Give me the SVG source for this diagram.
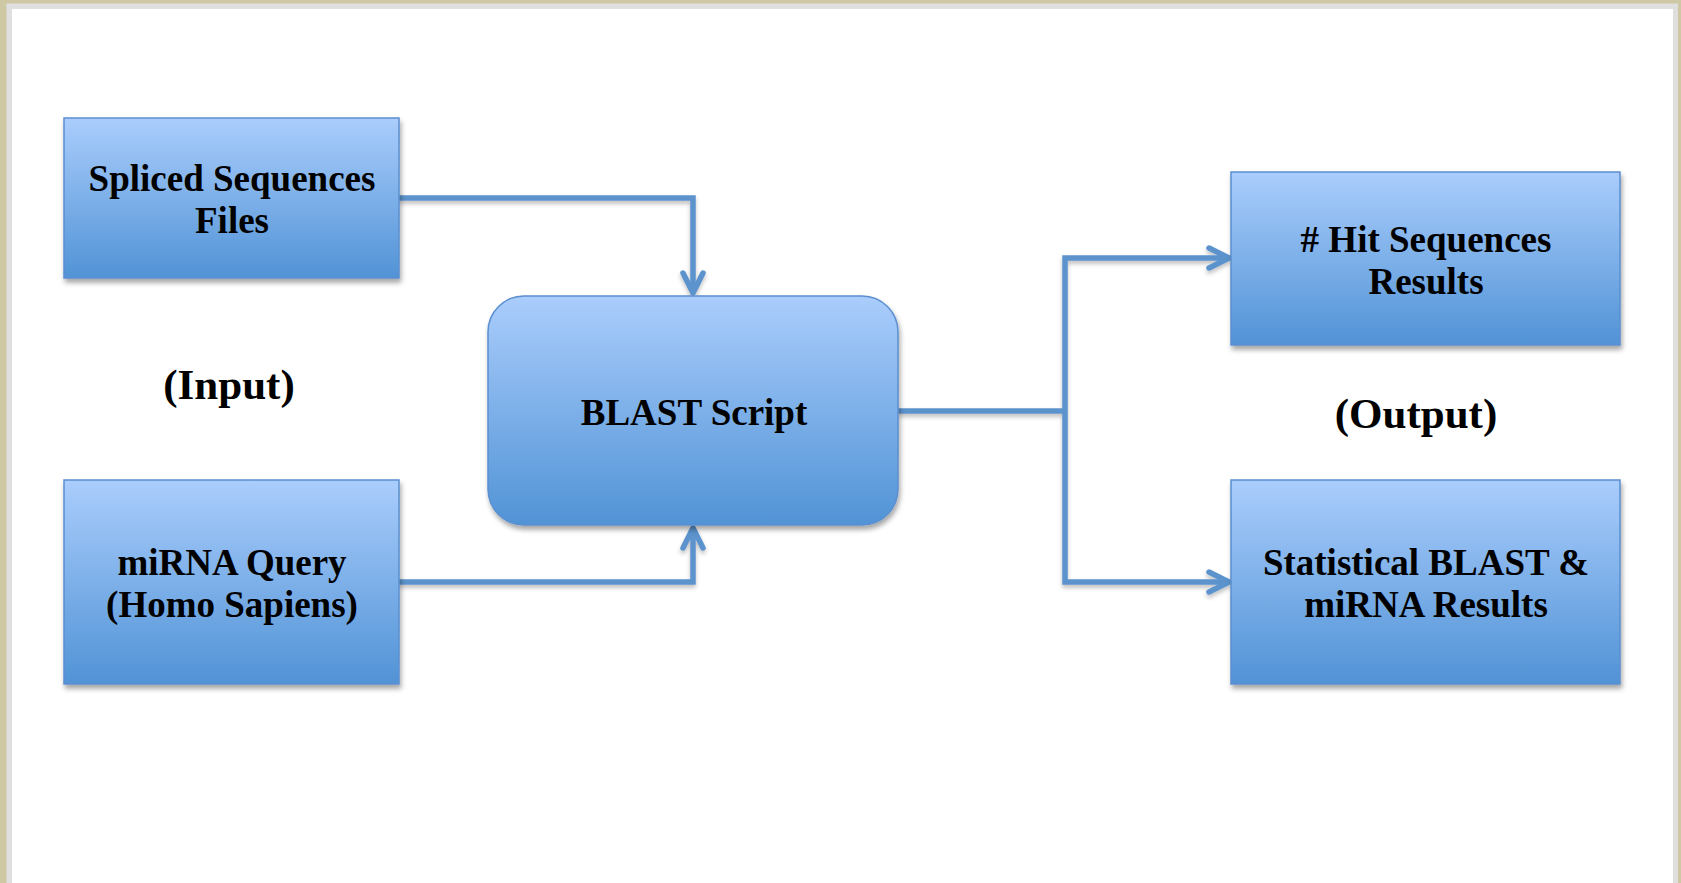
<svg xmlns="http://www.w3.org/2000/svg" width="1681" height="883" viewBox="0 0 1681 883">
  <style>
    .box { fill: url(#boxGrad); stroke: #5b8fcf; stroke-width: 1.5; filter: url(#boxShadow); }
    .lbl { font-family: "Liberation Serif", "Times New Roman", serif; font-weight: bold; font-size: 37px; fill: #000; text-anchor: middle; }
    .side { font-family: "Liberation Serif", "Times New Roman", serif; font-weight: bold; font-size: 43px; fill: #000; text-anchor: middle; }
    .conn { fill: none; stroke: #5b93cd; stroke-width: 5.5; stroke-linejoin: miter; }
  </style>
  <defs>
    <linearGradient id="boxGrad" x1="0" y1="0" x2="0" y2="1">
      <stop offset="0" stop-color="#aacdfc"/>
      <stop offset="1" stop-color="#5193d6"/>
    </linearGradient>
    <filter id="boxShadow" x="-10%" y="-10%" width="125%" height="130%">
      <feDropShadow dx="1.5" dy="4" stdDeviation="2.5" flood-color="#000" flood-opacity="0.35"/>
    </filter>
    <filter id="lineShadow" x="-10%" y="-10%" width="120%" height="130%">
      <feDropShadow dx="0" dy="3" stdDeviation="2" flood-color="#000" flood-opacity="0.25"/>
    </filter>
    <marker id="arr" markerUnits="userSpaceOnUse" markerWidth="40" markerHeight="40" viewBox="-30 -20 40 40" refX="0" refY="0" orient="auto" overflow="visible">
      <path d="M-20,-10 L0,0 L-20,10" fill="none" stroke="#5b93cd" stroke-width="5.5" stroke-linecap="round" stroke-linejoin="round"/>
    </marker>
  </defs>

  <g id="frame">
    <rect x="0" y="0" width="1681" height="883" fill="#cfc8a4"/>
    <rect x="6.5" y="3.5" width="1671.5" height="880" fill="#dfdfdf"/>
    <rect x="12" y="9" width="1661" height="874" fill="#ffffff"/>
  </g>

  <g id="connectors" filter="url(#lineShadow)">
    <path class="conn" d="M399,198 H693 V293" marker-end="url(#arr)"/>
    <path class="conn" d="M399,582 H693 V528" marker-end="url(#arr)"/>
    <path class="conn" d="M898,411 H1065"/>
    <path class="conn" d="M1065,411 V258 H1229" marker-end="url(#arr)"/>
    <path class="conn" d="M1065,411 V582 H1229" marker-end="url(#arr)"/>
  </g>

  <g id="spliced">
    <rect class="box" x="64" y="118" width="335" height="160"/>
    <text class="lbl" x="232" y="191">Spliced Sequences</text>
    <text class="lbl" x="232" y="233">Files</text>
  </g>

  <g id="mirna">
    <rect class="box" x="64" y="480" width="335" height="204"/>
    <text class="lbl" x="232" y="575">miRNA Query</text>
    <text class="lbl" x="232" y="617">(Homo Sapiens)</text>
  </g>

  <g id="blast">
    <rect class="box" x="488" y="296" width="410" height="229" rx="36" ry="36"/>
    <text class="lbl" x="694" y="425">BLAST Script</text>
  </g>

  <g id="hit">
    <rect class="box" x="1231" y="172" width="389" height="173"/>
    <text class="lbl" x="1426" y="252"># Hit Sequences</text>
    <text class="lbl" x="1426" y="294">Results</text>
  </g>

  <g id="statistical">
    <rect class="box" x="1231" y="480" width="389" height="204"/>
    <text class="lbl" x="1426" y="575">Statistical BLAST &amp;</text>
    <text class="lbl" x="1426" y="617">miRNA Results</text>
  </g>

  <g id="input-label">
    <text class="side" x="229" y="399">(Input)</text>
  </g>

  <g id="output-label">
    <text class="side" x="1416" y="428">(Output)</text>
  </g>
</svg>
